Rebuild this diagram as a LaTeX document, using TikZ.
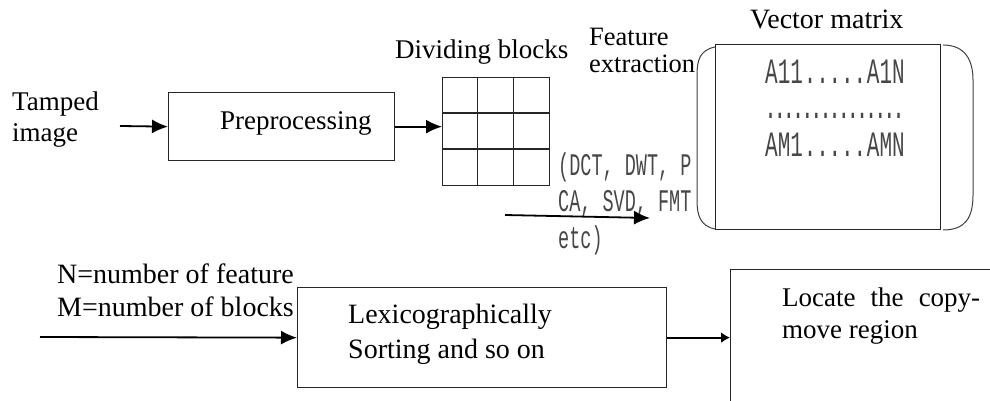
\documentclass[tikz,border=0pt]{standalone}
\usepackage{graphicx}
\usepackage{fontspec}
\setmainfont{Liberation Serif}
\newfontfamily\monofnt{Liberation Mono}
\usetikzlibrary{arrows.meta}

% tall narrow mono text and dot runs
\newcommand{\tallmono}[1]{\scalebox{1}[1.7]{#1}}
\newcommand{\dotrun}[2]{\hbox to #1{\xleaders\hbox to #2{\hss.\hss}\hfill}}

\tikzset{
  box/.style={draw=black!85, line width=1.3pt, rectangle, inner sep=0pt},
  flow/.style={line width=1.8pt, -{Latex[length=16pt,width=14pt]}},
  txt/.style={inner sep=0pt, anchor=base west, font=\fontsize{27}{32}\selectfont},
  code/.style={inner sep=0pt, anchor=base west, text=black!72},
  brk/.style={draw=black!75, line width=1pt},
}

\begin{document}
\begin{tikzpicture}[x=1pt, y=-1pt]

    \useasboundingbox (0,0) rectangle (990,401);

    % Input image and preprocessing
    \node[txt, align=left] (tamped) at (12,142) {Tamped\\image};
    \coordinate (in1) at (120,126);
    \node[box, anchor=north west, minimum width=226pt, minimum height=68pt] (prep) at (168,92) {};
    \node[txt] (preptxt) at (220,130) {Preprocessing};
    \draw[flow] (in1) -- (prep.west);

    % Dividing into a 3x3 grid of blocks
    \node[txt] (divtxt) at (395,59) {Dividing blocks};
    \node[box, anchor=north west, minimum width=107pt, minimum height=108pt] (blocks) at (442,77) {};
    \foreach \i in {1,2} {
        \draw[line width=1.3pt, black!85] (blocks.north west) ++(\i*35.67,0) -- ++(0,108);
        \draw[line width=1.3pt, black!85] (blocks.north west) ++(0,\i*36) -- ++(107,0);
    }
    \draw[flow] (prep.east) -- (prep.east -| blocks.west);

    % Feature extraction methods
    \node[txt, align=left, font=\fontsize{26.5}{27}\selectfont] (feattxt) at (589,73) {Feature\\extraction};
    \node[code, align=left, font=\fontsize{18.5}{36.5}\monofnt] (methods) at (558,248)
        {\tallmono{(DCT, DWT, P}\\\tallmono{CA, SVD, FMT}\\\tallmono{etc)}};
    \coordinate (fe1) at (505,215);
    \coordinate (fe2) at (650,218);
    \draw[flow] (fe1) -- (fe2);

    % Vector matrix with its brackets
    \node[txt, font=\fontsize{28}{32}\selectfont] (vectxt) at (750,29) {Vector matrix};
    \node[box, anchor=north west, minimum width=225pt, minimum height=185pt] (vecmat) at (715,44) {};
    \draw[brk] (715,47) .. controls (700,50) and (697,60) .. (697,75) -- (697,200)
        .. controls (697,215) and (700,226) .. (715,229);
    \draw[brk] (943,45) .. controls (965,45) and (973,60) .. (973,80) -- (973,195)
        .. controls (973,218) and (965,230) .. (943,230);
    \node[code, font=\fontsize{21}{24}\monofnt] (row1) at (765,84) {\tallmono{A11\dotrun{64pt}{10.67pt}A1N}};
    \node[code, font=\fontsize{21}{24}\monofnt] (row2) at (766,119) {\tallmono{\dotrun{137pt}{9.13pt}}};
    \node[code, font=\fontsize{21}{24}\monofnt] (row3) at (765,157) {\tallmono{AM1\dotrun{64pt}{10.67pt}AMN}};

    % Sorting step
    \node[txt, align=left, font=\fontsize{28}{33}\selectfont] (nmtxt) at (57,316) {N=number of feature\\M=number of blocks};
    \coordinate (in2) at (40,337);
    \node[box, anchor=north west, minimum width=369pt, minimum height=100pt] (lex) at (297,287) {};
    \node[txt, align=left, font=\fontsize{28}{35}\selectfont] (lextxt) at (348,358) {Lexicographically\\Sorting and so on};
    \draw[flow] (in2) -- (lex.west);

    % Locating the duplicated region
    \node[box, anchor=north west, minimum width=300pt, minimum height=160pt] (locate) at (730,269) {};
    \node[txt, align=left] (loctxt) at (782,338) {\makebox[198pt][s]{Locate the copy-}\\move region};
    \draw[line width=1.8pt, -{Latex[length=9pt,width=11pt]}] (lex.east) -- (lex.east -| locate.west);

\end{tikzpicture}
\end{document}
